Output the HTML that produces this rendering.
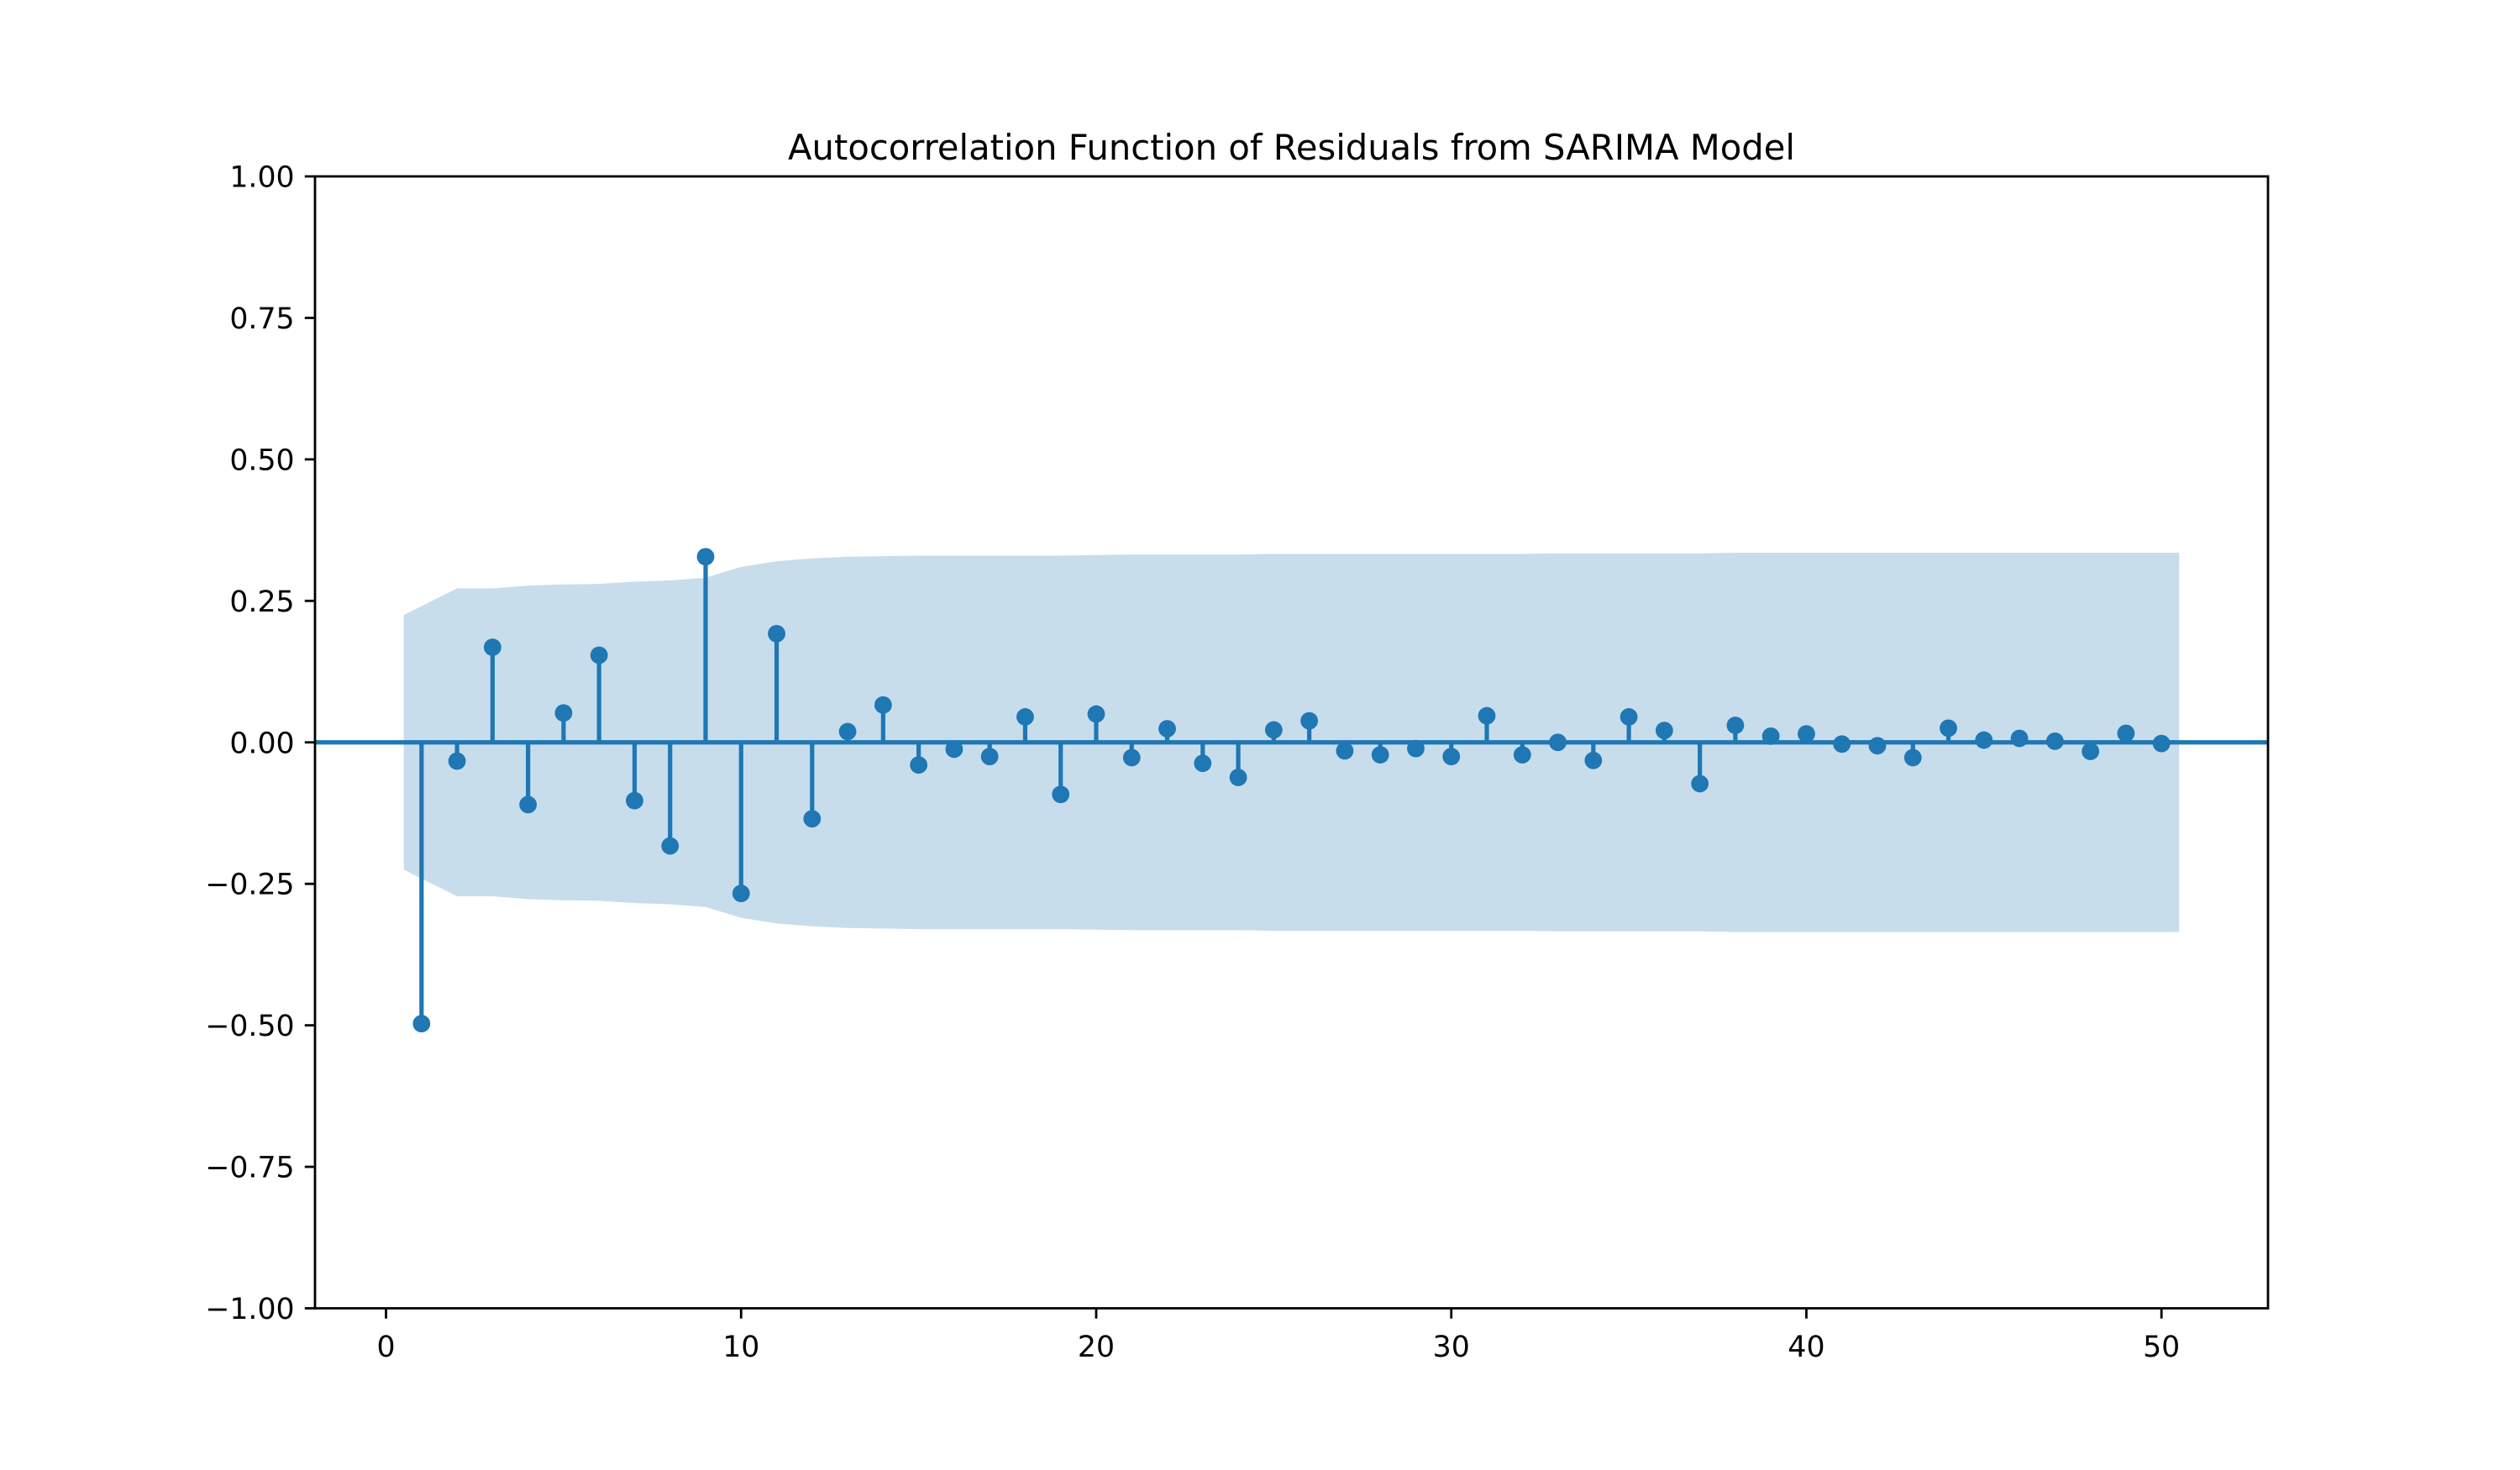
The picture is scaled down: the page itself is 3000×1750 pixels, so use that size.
<!DOCTYPE html>
<html><head><meta charset="utf-8"><style>
html,body{margin:0;padding:0;background:#fff;}
svg{display:block;font-family:"DejaVu Sans","Liberation Sans",sans-serif;}
</style></head><body>
<svg id="chart" width="3000" height="1750" viewBox="0 0 3000 1750" xmlns="http://www.w3.org/2000/svg">
<rect width="3000" height="1750" fill="#fff"/>
<text x="1537.5" y="190" font-size="41.7" text-anchor="middle" fill="#000">Autocorrelation Function of Residuals from SARIMA Model</text>
<g id="band"></g>
<g id="zero"></g>
<g id="stems"></g>
<g id="axes"></g>
</svg>
<script>
const lags = [1,2,3,4,5,6,7,8,9,10,11,12,13,14,15,16,17,18,19,20,21,22,23,24,25,26,27,28,29,30,31,32,33,34,35,36,37,38,39,40,41,42,43,44,45,46,47,48,49,50];
const acfValues = [-0.497,-0.033,0.168,-0.110,0.052,0.154,-0.103,-0.183,0.328,-0.267,0.192,-0.135,0.019,0.066,-0.040,-0.012,-0.025,0.045,-0.092,0.050,-0.027,0.024,-0.037,-0.062,0.022,0.038,-0.015,-0.022,-0.011,-0.025,0.047,-0.022,0.000,-0.032,0.045,0.021,-0.073,0.030,0.011,0.015,-0.003,-0.006,-0.027,0.025,0.004,0.007,0.002,-0.016,0.016,-0.002];
const bandHalf = [0.225,0.272,0.272,0.277,0.279,0.280,0.284,0.286,0.291,0.310,0.320,0.325,0.328,0.329,0.330,0.330,0.330,0.330,0.330,0.331,0.332,0.332,0.332,0.332,0.333,0.333,0.333,0.333,0.333,0.333,0.333,0.333,0.334,0.334,0.334,0.334,0.334,0.335,0.335,0.335,0.335,0.335,0.335,0.335,0.335,0.335,0.335,0.335,0.335,0.335];
const xTicks = [0,10,20,30,40,50];
const yTicks = [-1,-0.75,-0.5,-0.25,0,0.25,0.5,0.75,1];
const yTickLabels = ["\u22121.00","\u22120.75","\u22120.50","\u22120.25","0.00","0.25","0.50","0.75","1.00"];

const L=375,R=2700,T=210,B=1557.5, XMIN=-2, XMAX=53, YMIN=-1, YMAX=1;
const sx=v=>L+(v-XMIN)/(XMAX-XMIN)*(R-L);
const sy=v=>B-(v-YMIN)/(YMAX-YMIN)*(B-T);
const NS="http://www.w3.org/2000/svg";
function mk(tag,attrs,parent){const e=document.createElementNS(NS,tag);for(const k in attrs)e.setAttribute(k,attrs[k]);parent.appendChild(e);return e;}
const C="#1f77b4";

// band
const bx=lags.map((l,i)=>i===0?l-0.5:(i===lags.length-1?l+0.5:l));
let pts=bx.map((x,i)=>sx(x)+","+sy(bandHalf[i])).join(" ")+" "+bx.slice().reverse().map((x,j)=>{const i=bx.length-1-j;return sx(x)+","+sy(-bandHalf[i]);}).join(" ");
const band=mk("polygon",{points:pts,fill:C,"fill-opacity":"0.25",stroke:"none"},document.getElementById("band"));



const z=mk("line",{x1:L,x2:R,y1:sy(0),y2:sy(0),stroke:C,"stroke-width":5.2},document.getElementById("zero"));



const sg=document.getElementById("stems");
lags.forEach((l,i)=>{
  const s=mk("line",{x1:sx(l),x2:sx(l),y1:sy(0),y2:sy(acfValues[i]),stroke:C,"stroke-width":5.2},sg);
  
  
  const c=mk("circle",{cx:sx(l),cy:sy(acfValues[i]),r:10.4,fill:C},sg);
  
  
});

const ag=document.getElementById("axes");
const fr=mk("rect",{x:L,y:T,width:R-L,height:B-T,fill:"none",stroke:"#000","stroke-width":2.8},ag);


xTicks.forEach(v=>{
  const t=mk("line",{x1:sx(v),x2:sx(v),y1:B,y2:B+12.2,stroke:"#000","stroke-width":2.8},ag);
  
  
  const tx=mk("text",{x:sx(v),y:B+12.2+12.2+33,"font-size":34.7,"text-anchor":"middle",fill:"#000"},ag);
  tx.textContent=String(v);
  
  
});
yTicks.forEach((v,i)=>{
  const t=mk("line",{x1:L-12.2,x2:L,y1:sy(v),y2:sy(v),stroke:"#000","stroke-width":2.8},ag);
  
  
  const tx=mk("text",{x:L-12.2-12.2,y:sy(v)+12.5,"font-size":34.7,"text-anchor":"end",fill:"#000"},ag);
  tx.textContent=yTickLabels[i];
  
  
});
</script>
</body></html>
